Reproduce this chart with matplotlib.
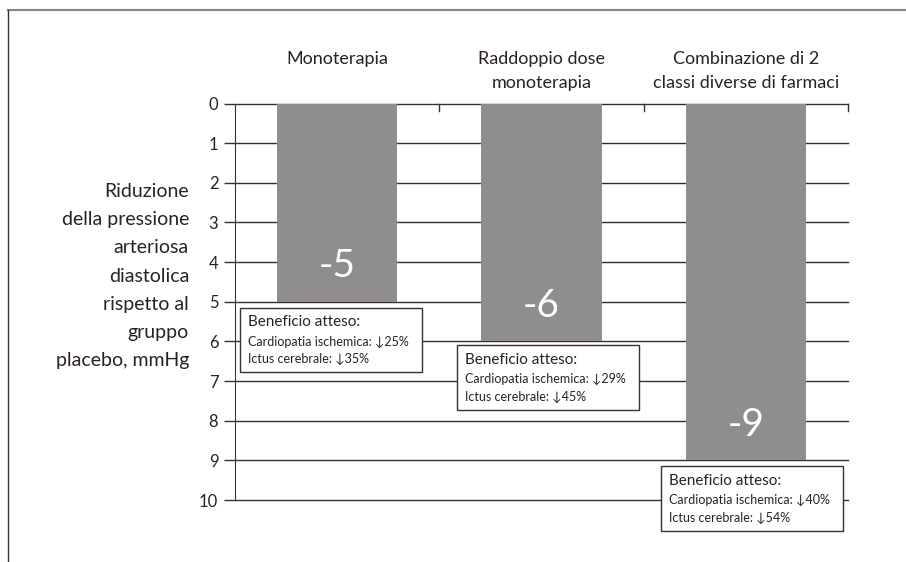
import matplotlib.pyplot as plt
from matplotlib.lines import Line2D
from matplotlib.patches import Rectangle

plt.rcParams['font.family'] = ['Lato', 'DejaVu Sans']

# data
categories = ["Monoterapia", "Raddoppio dose\nmonoterapia", "Combinazione di 2\nclassi diverse di farmaci"]
reduction = [5, 6, 9]
value_labels = ["-5", "-6", "-9"]
benefit_cardio = [25, 29, 40]
benefit_ictus = [35, 45, 54]
yticks = list(range(0, 11))

dark = "#3b302b"
txt = "#2a221f"
bar_gray = "#8f8e8c"

fig = plt.figure(figsize=(9.06, 5.62), dpi=100)
ax = fig.add_axes([235 / 906, 1 - 500 / 562, (848 - 235) / 906, (500 - 103.5) / 562])

x = list(range(len(categories)))
ax.bar(x, reduction, width=0.59, color=bar_gray, zorder=2)

ax.set_xlim(-0.5, 2.5)
ax.set_ylim(10, 0)

# grid lines drawn from the ticks
for t in yticks:
    ax.axhline(t, color=dark, linewidth=1, zorder=1, clip_on=False)
ax.set_yticks(yticks)
ax.tick_params(axis="y", length=8, width=1, color=dark, labelsize=12, pad=4, labelcolor=txt)
ax.tick_params(axis="x", bottom=False, labelbottom=False)
for s in ["top", "right", "bottom"]:
    ax.spines[s].set_visible(False)
ax.spines["left"].set_color(dark)
ax.spines["left"].set_zorder(3)

# small separators under the top line
for b in [0.5, 1.5, 2.5]:
    ax.plot([b, b], [0, 0.2], color=dark, linewidth=1, zorder=3, clip_on=False)

# category titles above
for i, c in enumerate(categories):
    ax.text(i, -1.33, c, ha="center", va="top", fontsize=13, color=txt,
            linespacing=1.65)

# value labels inside bars
for i, v in enumerate(reduction):
    ax.text(i, v - 0.89, value_labels[i], ha="center", va="center", fontsize=28,
            color="white", zorder=4)

# benefit boxes
box_left = [-0.475, 0.585, 1.585]
box_top = [0.15, 0.1, 0.15]
box_w, box_h = 0.89, 1.62
for i, v in enumerate(reduction):
    x0 = box_left[i]
    y0 = v + box_top[i]
    ax.add_patch(Rectangle((x0, y0), box_w, box_h, facecolor="white", edgecolor=dark,
                           linewidth=1, zorder=5, clip_on=False))
    ax.text(x0 + 0.04, y0 + 0.36, "Beneficio atteso:", ha="left", va="center",
            fontsize=11, color=txt, zorder=6, clip_on=False)
    ax.text(x0 + 0.04, y0 + 0.85, "Cardiopatia ischemica: \u2193%d%%" % benefit_cardio[i],
            ha="left", va="center", fontsize=9, color=txt, zorder=6, clip_on=False)
    ax.text(x0 + 0.04, y0 + 1.3, "Ictus cerebrale: \u2193%d%%" % benefit_ictus[i],
            ha="left", va="center", fontsize=9, color=txt, zorder=6, clip_on=False)

# y label, right aligned
fig.text(189 / 906, 1 - 183 / 562,
         "Riduzione\ndella pressione\narteriosa\ndiastolica\nrispetto al\ngruppo\nplacebo, mmHg",
         ha="right", va="top", fontsize=14, color=txt, linespacing=1.8)

# frame lines of the figure
fig.add_artist(Line2D([8 / 906, 1], [1 - 10 / 562, 1 - 10 / 562], color="#8a8580", linewidth=1.5))
fig.add_artist(Line2D([8 / 906, 8 / 906], [1 - 10 / 562, 0], color=dark, linewidth=1))

plt.savefig("out.png", dpi=100)
